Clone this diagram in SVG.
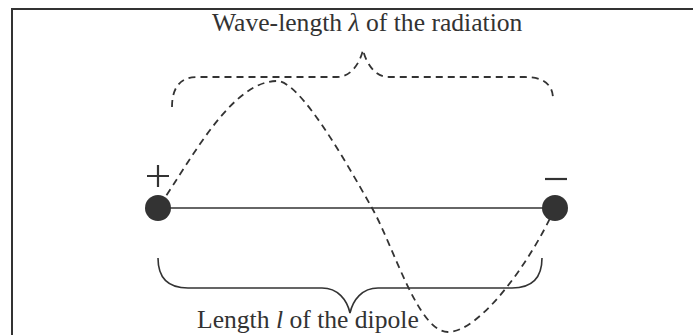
<svg xmlns="http://www.w3.org/2000/svg" width="693" height="335" viewBox="0 0 693 335">
<style>
.frame{fill:none;stroke:#333;stroke-width:2}
.dash{fill:none;stroke:#333;stroke-width:1.8;stroke-dasharray:7 5}
.solid{fill:none;stroke:#333;stroke-width:1.6}
.dot{fill:#333}
.sign{stroke:#333;stroke-width:2.2;fill:none}
.lbl{font-family:"Liberation Serif","Times New Roman",serif;font-size:25.6px;fill:#333}
</style>
<rect width="693" height="335" fill="#fff"/>
<path class="frame" d="M12,335 V9 H693"/>
<g id="connectors">
<path id="dipole-line" class="solid" d="M158,208 H555"/>
<path id="wave" class="dash" d="M160,205 C192,158 232,81 277,81 C300,81 345,160 372,208 C394,247 418,332 448,332 C480,332 530,262 553,212"/>
<path id="wavelength-brace" class="dash" d="M172,107 C172,88 180,77 197,77 L337,77 C352,77 360,62 363,50 C366,62 374,77 389,77 L525,77 C544,77 553,85 553,99"/>
<path id="length-brace" class="solid" d="M158,258 C158,278 168,288 188,288 L322,288 C338,288 347,300 350,313 C353,300 362,288 378,288 L512,288 C532,288 542,278 542,258"/>
</g>
<g id="plus-charge">
<circle class="dot" cx="158" cy="208" r="13"/>
<path class="sign" d="M147,176 H169 M158,165 V187"/>
</g>
<g id="minus-charge">
<circle class="dot" cx="555" cy="208" r="13"/>
<path class="sign" d="M545,179 H567"/>
</g>
<g id="wavelength-label">
<text class="lbl" x="212" y="31">Wave-length <tspan font-style="italic">λ</tspan> of the radiation</text>
</g>
<g id="length-label">
<text class="lbl" x="197" y="328">Length <tspan font-style="italic">l</tspan> of the dipole</text>
</g>
</svg>
